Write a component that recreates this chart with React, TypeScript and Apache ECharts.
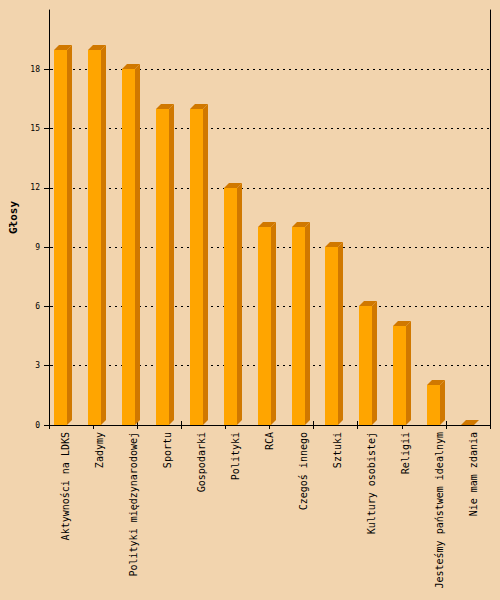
import React, { useEffect, useRef } from "react";
import * as echarts from "echarts";

const categories = [
  "Aktywności na LDKS",
  "Zadymy",
  "Polityki międzynarodowej",
  "Sportu",
  "Gospodarki",
  "Polityki",
  "RCA",
  "Czegoś innego",
  "Sztuki",
  "Kultury osobistej",
  "Religii",
  "Jesteśmy państwem idealnym",
  "Nie mam zdania",
];
const votes = [19, 19, 18, 16, 16, 12, 10, 10, 9, 6, 5, 2, 0];
const yTicks = [0, 3, 6, 9, 12, 15, 18];
const yMax = 21;
const xTickCount = 10;

const BG = "#F2D4AE";
const FACE = "#FFA500";
const SIDE = "#D07800";
const FONT = "DejaVu Sans Mono";

export default function App() {
  const ref = useRef<HTMLDivElement>(null);
  useEffect(() => {
    if (!ref.current) return;
    const chart = echarts.init(ref.current, undefined, { renderer: "svg" });
    const grid = { left: 48, right: 10, top: 10, bottom: 175 };
    chart.setOption({
      animation: false,
      backgroundColor: BG,
      grid,
      xAxis: [
        {
          type: "category",
          data: categories,
          boundaryGap: true,
          axisLine: { show: true, lineStyle: { color: "#000", width: 1 } },
          axisTick: { show: false },
          splitLine: { show: false },
          axisLabel: {
            rotate: 90,
            interval: 0,
            margin: 7,
            color: "#000",
            fontFamily: FONT,
            fontSize: 10,
          },
        },
        {
          type: "value",
          min: 0,
          max: xTickCount,
          interval: 1,
          position: "bottom",
          axisLine: { show: false },
          axisLabel: { show: false },
          splitLine: { show: false },
          axisTick: { show: true, length: 4, lineStyle: { color: "#000" } },
        },
        {
          type: "value",
          min: 0,
          max: xTickCount,
          interval: 1,
          position: "bottom",
          axisLine: { show: false },
          axisLabel: { show: false },
          splitLine: { show: false },
          axisTick: { show: true, inside: true, length: 4, lineStyle: { color: "#000" } },
        },
      ],
      yAxis: [
        {
          type: "value",
          min: 0,
          max: yMax,
          interval: 3,
          name: "Głosy",
          nameLocation: "middle",
          nameGap: 30,
          nameTextStyle: { fontFamily: FONT, fontWeight: "bold", fontSize: 11, color: "#000" },
          axisLine: { show: true, lineStyle: { color: "#000" } },
          axisTick: { show: true, length: 5, customValues: yTicks, lineStyle: { color: "#000" } },
          axisLabel: {
            customValues: yTicks,
            margin: 9,
            color: "#000",
            fontFamily: FONT,
            fontSize: 8,
          },
          splitLine: {
            show: true,
            lineStyle: { color: "#000", type: [2, 4], width: 1 },
          },
        },
        {
          type: "value",
          min: 0,
          max: yMax,
          position: "left",
          axisLine: { show: false },
          axisLabel: { show: false },
          splitLine: { show: false },
          axisTick: { show: true, inside: true, length: 4, customValues: yTicks, lineStyle: { color: "#000" } },
        },
        {
          type: "value",
          min: 0,
          max: yMax,
          position: "right",
          axisLine: { show: true, lineStyle: { color: "#000" } },
          axisLabel: { show: false },
          splitLine: { show: false },
          axisTick: { show: false },
        },
      ],
      series: [
        {
          type: "custom",
          xAxisIndex: 0,
          yAxisIndex: 0,
          encode: { x: 0, y: 1 },
          data: votes.map((v, i) => [i, v]),
          renderItem: (params: any, api: any) => {
            const idx = api.value(0);
            const v = api.value(1);
            const base = api.coord([idx, 0]);
            const top = api.coord([idx, v]);
            const band = api.size([1, 0])[0];
            const fw = Math.round(band * 0.38);
            const d = Math.round(band * 0.15);
            const x0 = Math.round(base[0] - band * 0.35);
            const x1 = x0 + fw;
            const y0 = Math.round(base[1]);
            const y1 = Math.round(top[1]);
            return {
              type: "group",
              children: [
                {
                  type: "rect",
                  shape: { x: x0, y: y1, width: fw, height: y0 - y1 },
                  style: { fill: FACE },
                },
                {
                  type: "polygon",
                  shape: { points: [[x1, y1], [x1 + d, y1 - d], [x1 + d, y0 - d], [x1, y0]] },
                  style: { fill: SIDE },
                },
                {
                  type: "polygon",
                  shape: { points: [[x0, y1], [x1, y1], [x1 + d, y1 - d], [x0 + d, y1 - d]] },
                  style: { fill: SIDE },
                },
              ],
            };
          },
        },
      ],
    });
    return () => chart.dispose();
  }, []);
  return <div ref={ref} style={{ width: 500, height: 600, position: "fixed", left: 0, top: 0 }} />;
}
